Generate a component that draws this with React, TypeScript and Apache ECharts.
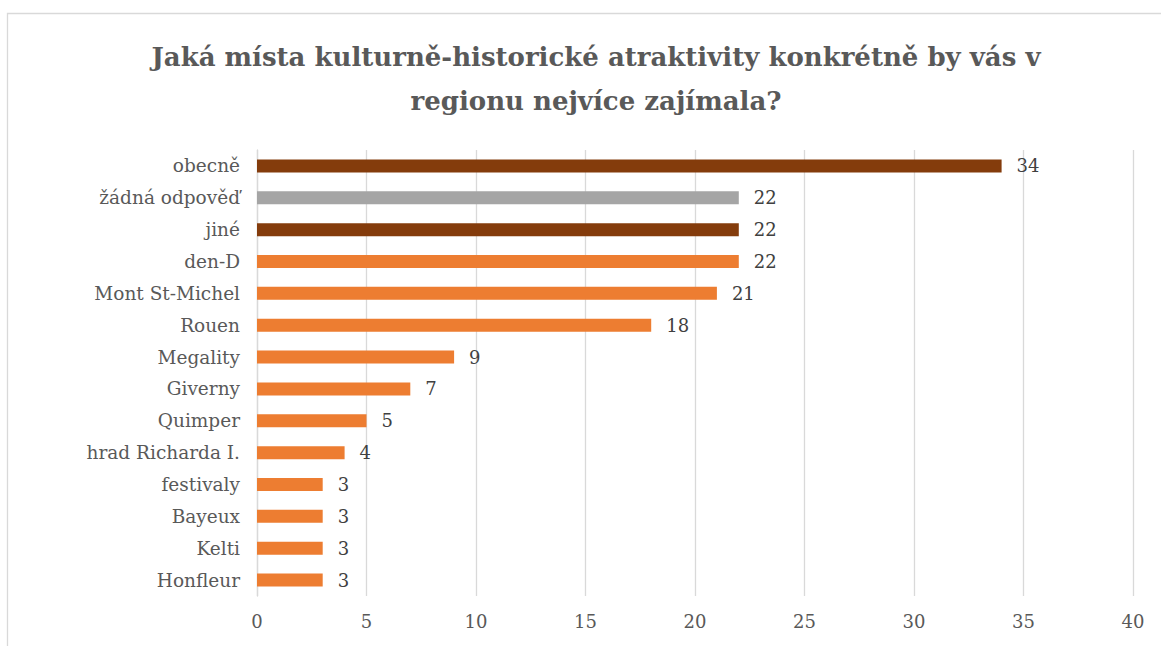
import React, { useEffect, useRef } from "react";
import * as echarts from "echarts";

const TITLE = "Jaká místa kulturně-historické atraktivity konkrétně by vás v\nregionu nejvíce zajímala?";
const categories = [
  "obecně",
  "žádná odpověď",
  "jiné",
  "den-D",
  "Mont St-Michel",
  "Rouen",
  "Megality",
  "Giverny",
  "Quimper",
  "hrad Richarda I.",
  "festivaly",
  "Bayeux",
  "Kelti",
  "Honfleur",
];
const values = [34, 22, 22, 22, 21, 18, 9, 7, 5, 4, 3, 3, 3, 3];
const brownItems = ["obecně", "jiné"];
const grayItems = ["žádná odpověď"];
const xTicks = [0, 5, 10, 15, 20, 25, 30, 35, 40];

const FONT = "'DejaVu Serif', serif";

export default function App() {
  const ref = useRef<HTMLDivElement>(null);
  useEffect(() => {
    if (!ref.current) return;
    const chart = echarts.init(ref.current, undefined, { renderer: "svg" });
    const colorFor = (name: string) =>
      brownItems.includes(name) ? "#843C0C" : grayItems.includes(name) ? "#A5A5A5" : "#ED7D31";
    chart.setOption({
      animation: false,
      backgroundColor: "#ffffff",
      title: {
        text: TITLE,
        left: 591,
        top: 30,
        textAlign: "center",
        textStyle: {
          fontFamily: FONT,
          fontWeight: "bold",
          fontSize: 26,
          lineHeight: 44,
          color: "#595959",
        },
      },
      graphic: [
        {
          type: "rect",
          shape: { x: 7.5, y: 13.5, width: 1170, height: 660 },
          style: { fill: "none", stroke: "#d9d9d9", lineWidth: 1.3 },
          silent: true,
          z: -1,
        },
      ],
      grid: { left: 257, right: 28, top: 150, bottom: 50, containLabel: false },
      xAxis: {
        type: "value",
        min: xTicks[0],
        max: xTicks[xTicks.length - 1],
        interval: 5,
        axisLine: { show: false },
        axisTick: { show: false },
        splitLine: { show: true, lineStyle: { color: "#d9d9d9", width: 1.3 } },
        axisLabel: {
          fontFamily: FONT,
          fontSize: 18,
          color: "#595959",
          margin: 16,
        },
      },
      yAxis: {
        type: "category",
        data: categories,
        inverse: true,
        axisLine: { show: true, lineStyle: { color: "#d9d9d9", width: 1.3 } },
        axisTick: { show: false },
        axisLabel: {
          fontFamily: FONT,
          fontSize: 18.5,
          color: "#595959",
          margin: 17,
        },
      },
      series: [
        {
          type: "bar",
          barWidth: 13,
          data: values.map((v, i) => ({
            value: v,
            itemStyle: { color: colorFor(categories[i]) },
          })),
          label: {
            show: true,
            position: "right",
            distance: 15,
            fontFamily: FONT,
            fontSize: 18,
            color: "#404040",
          },
        },
      ],
    });
    return () => chart.dispose();
  }, []);
  return (
    <div
      ref={ref}
      style={{ position: "fixed", left: 0, top: 0, width: 1161, height: 646 }}
    />
  );
}
